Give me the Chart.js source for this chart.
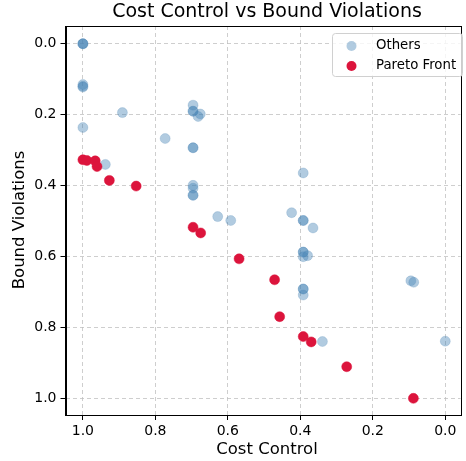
<!DOCTYPE html>
<html>
<head>
<meta charset="utf-8">
<script src="https://cdn.jsdelivr.net/npm/chart.js@4.4.1/dist/chart.umd.min.js"></script>
<style>
html,body{margin:0;padding:0;background:#fff;}
#wrap{width:466px;height:461px;}
</style>
</head>
<body>
<div id="wrap"><canvas id="c" width="466" height="461"></canvas></div>
<script>
const chartTitle = "Cost Control vs Bound Violations";
const xLabel = "Cost Control";
const yLabel = "Bound Violations";
const seriesNames = ["Others", "Pareto Front"];
const xTicks = [0.0, 0.2, 0.4, 0.6, 0.8, 1.0];
const yTicks = [0.0, 0.2, 0.4, 0.6, 0.8, 1.0];

const othersX = [1.0,1.0,1.0, 1.0,1.0,1.0, 0.891, 1.0, 0.696, 0.696,0.696, 0.676, 0.682, 0.773,
  0.696,0.696, 0.938, 0.696, 0.696, 0.696,0.696, 0.628, 0.592, 0.392, 0.424, 0.392,0.392, 0.365,
  0.392,0.392, 0.392, 0.380, 0.392,0.392, 0.392, 0.095, 0.087, 0.339, 0.0];
const othersY = [0.0,0.0,0.0, 0.115,0.12,0.122, 0.194, 0.236, 0.173, 0.190,0.190, 0.198, 0.205, 0.267,
  0.293,0.293, 0.340, 0.399, 0.407, 0.427,0.427, 0.487, 0.498, 0.364, 0.476, 0.498,0.498, 0.519,
  0.587,0.587, 0.600, 0.597, 0.691,0.691, 0.708, 0.668, 0.672, 0.839, 0.838];

const paretoX = [1.0, 0.989, 0.966, 0.961, 0.927, 0.853, 0.696, 0.675, 0.569, 0.471, 0.457, 0.392, 0.370, 0.272, 0.088];
const paretoY = [0.327, 0.329, 0.330, 0.346, 0.385, 0.401, 0.517, 0.533, 0.606, 0.665, 0.769, 0.825, 0.840, 0.910, 0.999];

const othersColor = 'rgba(70,130,180,0.42)';
const paretoColor = 'rgb(220,20,60)';
const FONT = "'DejaVu Sans', sans-serif";

function toPts(xs, ys){ return xs.map((x,i)=>({x:x, y:ys[i]})); }

const overlay = {
  id: 'overlay',
  afterDraw(chart){
    const ctx = chart.ctx;
    const a = chart.chartArea;
    ctx.save();
    ctx.setLineDash([]);
    // full frame
    ctx.strokeStyle = '#000';
    ctx.lineWidth = 1;
    ctx.strokeRect(Math.round(a.left)+0.5, Math.round(a.top)+0.5, Math.round(a.right-a.left), Math.round(a.bottom-a.top));
    // title
    ctx.fillStyle = '#000';
    ctx.textAlign = 'center';
    ctx.textBaseline = 'middle';
    ctx.font = "19px " + FONT;
    ctx.fillText(chartTitle, 267, 12);
    // x label
    ctx.font = "16.5px " + FONT;
    ctx.fillText(xLabel, 267, 450);
    // y label
    ctx.save();
    ctx.translate(20, 220);
    ctx.rotate(-Math.PI/2);
    ctx.fillText(yLabel, 0, 0);
    ctx.restore();
    // legend
    const lx = 332.5, ly = 33.5, lw = 130, lh = 43, r = 3;
    ctx.beginPath();
    ctx.moveTo(lx+r, ly);
    ctx.lineTo(lx+lw-r, ly); ctx.arcTo(lx+lw, ly, lx+lw, ly+r, r);
    ctx.lineTo(lx+lw, ly+lh-r); ctx.arcTo(lx+lw, ly+lh, lx+lw-r, ly+lh, r);
    ctx.lineTo(lx+r, ly+lh); ctx.arcTo(lx, ly+lh, lx, ly+lh-r, r);
    ctx.lineTo(lx, ly+r); ctx.arcTo(lx, ly, lx+r, ly, r);
    ctx.closePath();
    ctx.fillStyle = 'rgba(255,255,255,0.8)';
    ctx.fill();
    ctx.strokeStyle = '#d0d0d0';
    ctx.lineWidth = 1;
    ctx.stroke();
    const items = [[seriesNames[0], othersColor, 45.5], [seriesNames[1], paretoColor, 65.5]];
    ctx.font = "13.3px " + FONT;
    ctx.textAlign = 'left';
    items.forEach(it=>{
      ctx.beginPath();
      ctx.arc(351.5, it[2]+0.5, 5, 0, Math.PI*2);
      ctx.fillStyle = it[1];
      ctx.fill();
      ctx.fillStyle = '#000';
      ctx.fillText(it[0], 376, it[2]);
    });
    ctx.restore();
  }
};

const gridOpts = {
  color: 'rgba(190,190,190,0.75)',
  lineWidth: 1,
  tickColor: '#000',
  tickLength: 5,
  tickWidth: 1,
  tickBorderDash: [],
  drawTicks: true
};
const borderOpts = { display: true, color: '#000', width: 1, dash: [4,3] };

new Chart(document.getElementById('c'), {
  type: 'scatter',
  data: {
    datasets: [
      { label: seriesNames[1], data: toPts(paretoX, paretoY), order: 1,
        backgroundColor: paretoColor, borderColor: paretoColor, borderWidth: 0.5, pointRadius: 5 },
      { label: seriesNames[0], data: toPts(othersX, othersY), order: 2,
        backgroundColor: othersColor, borderColor: othersColor, borderWidth: 0.5, pointRadius: 5 }
    ]
  },
  options: {
    responsive: false,
    animation: false,
    devicePixelRatio: 1,
    layout: { padding: { top: 26, right: 0, left: 0, bottom: 0 } },
    plugins: { legend: { display: false }, title: { display: false }, tooltip: { enabled: false } },
    scales: {
      x: {
        type: 'linear', reverse: true, min: -0.042, max: 1.048,
        afterFit(s){ s.height = 46; },
        afterBuildTicks(s){ s.ticks = xTicks.map(v=>({value:v})); },
        ticks: { color: '#000', font: { size: 14, family: FONT }, padding: 3, maxRotation: 0,
          callback: v => Number(v).toFixed(1) },
        grid: gridOpts,
        border: borderOpts
      },
      y: {
        type: 'linear', reverse: true, min: -0.05, max: 1.046,
        afterFit(s){ s.width = 65.5; },
        afterBuildTicks(s){ s.ticks = yTicks.map(v=>({value:v})); },
        ticks: { color: '#000', font: { size: 14, family: FONT }, padding: 4,
          callback: v => Number(v).toFixed(1) },
        grid: gridOpts,
        border: borderOpts
      }
    }
  },
  plugins: [overlay]
});
</script>
</body>
</html>
